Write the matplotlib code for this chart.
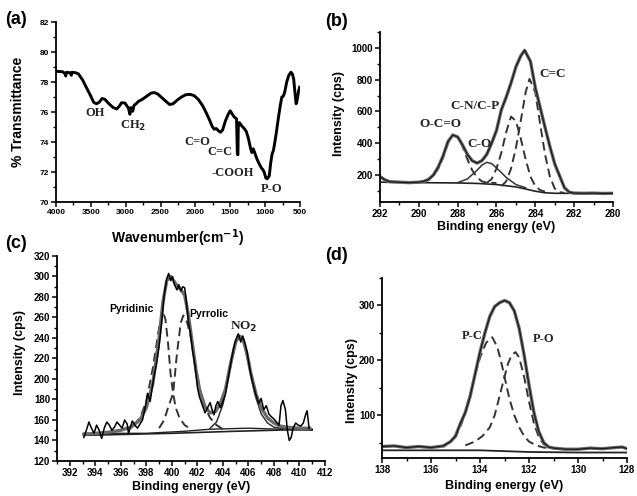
#!/usr/bin/env python3
"""
Four-panel figure: FTIR spectrum and C1s / N1s / P2p XPS fits.
"""

import matplotlib
matplotlib.use("Agg")
import matplotlib.pyplot as plt
from matplotlib.ticker import MultipleLocator

# ---- (a) FTIR ----
ftirWn = [4000, 3950, 3900, 3870, 3860, 3850, 3800, 3780, 3770, 3720, 3680, 3620, 3560, 3500,
          3460, 3420, 3380, 3340, 3300, 3240, 3180, 3130, 3090, 3060, 3010, 2960, 2940, 2925,
          2900, 2880, 2850, 2820, 2760, 2700, 2640, 2590, 2540, 2480, 2420, 2370, 2320, 2260,
          2200, 2140, 2080, 2020, 1960, 1900, 1850, 1800, 1760, 1730, 1700, 1670, 1640, 1610,
          1570, 1530, 1500, 1470, 1440, 1410, 1398, 1390, 1385, 1370, 1340, 1300, 1270, 1240,
          1210, 1190, 1170, 1150, 1120, 1080, 1050, 1030, 1010, 990, 970, 940, 920, 900, 880,
          860, 840, 810, 780, 760, 740, 720, 690, 660, 630, 610, 590, 570, 555, 540, 520, 505]
ftirT = [78.72, 78.70, 78.68, 78.55, 78.40, 78.65, 78.62, 78.45, 78.65, 78.62, 78.55, 78.15, 77.60, 77.05,
         76.65, 76.55, 76.65, 76.90, 76.85, 76.55, 76.30, 76.20, 76.40, 76.62, 76.60, 76.25, 75.85, 76.30,
         76.05, 76.45, 76.55, 76.70, 76.85, 77.05, 77.25, 77.30, 77.20, 76.95, 76.70, 76.50, 76.55, 76.80,
         77.00, 77.15, 77.18, 77.10, 76.85, 76.45, 76.00, 75.50, 75.05, 74.85, 74.90, 74.75, 74.65, 74.80,
         75.40, 75.85, 76.08, 75.85, 75.65, 75.55, 73.20, 73.15, 75.00, 75.30, 75.10, 74.90, 74.70, 74.25,
         73.60, 73.30, 73.55, 73.30, 72.90, 72.50, 72.25, 72.15, 71.95, 71.60, 71.55, 71.75, 72.60, 73.20, 73.45,
         74.00, 74.60, 75.60, 76.50, 77.00, 77.05, 77.30, 78.00, 78.45, 78.65, 78.55, 78.20, 77.20, 76.55, 76.80, 77.40, 77.65]
ftirLabels = ["OH", "CH$_2$", "C=O", "C=C", "-COOH", "P-O"]
ftirLabelX = [3440, 2895, 1977, 1647, 1461, 901]
ftirLabelY = [75.93, 75.07, 74.0, 73.33, 71.93, 70.87]

# ---- (b) C1s ----
c1sEnvX = [292.0, 291.75, 291.5, 291.0, 290.5, 290.0, 289.75, 289.5, 289.25, 289.0, 288.75, 288.5,
           288.25, 288.0, 287.75, 287.5, 287.25, 287.0, 286.75, 286.5, 286.25, 286.0, 285.75, 285.5,
           285.25, 285.0, 284.75, 284.55, 284.25, 284.0, 283.75, 283.5, 283.25, 283.0, 282.75, 282.5,
           282.25, 282.0, 281.5, 281.0, 280.5, 280.0]
c1sEnvY = [190, 170, 158, 155, 152, 155, 160, 172, 200, 250, 320, 410,
           452, 440, 390, 330, 290, 275, 290, 330, 400, 480, 610, 690,
           780, 880, 950, 985, 915, 750, 625, 500, 380, 270, 195, 120,
           92, 86, 85, 86, 84, 85]
c1sBaseX = [292, 290, 288, 287, 286, 285, 284.5, 284, 283.5, 283, 280]
c1sBaseY = [155, 152, 150, 147, 140, 125, 112, 98, 88, 85, 84]
ocoX = [289.75, 289.5, 289.25, 289.0, 288.75, 288.5, 288.25, 288.0, 287.75, 287.5, 287.25, 287.0, 286.75, 286.5, 286.0]
ocoY = [160, 170, 195, 240, 310, 400, 450, 440, 380, 300, 230, 185, 160, 152, 150]
coX = [288.0, 287.5, 287.0, 286.75, 286.5, 286.25, 286.0, 285.5, 285.0, 284.5]
coY = [152, 175, 230, 262, 280, 272, 245, 185, 140, 120]
cnX = [286.5, 286.25, 286.0, 285.75, 285.5, 285.25, 285.0, 284.75, 284.5, 284.25, 284.0, 283.75, 283.5]
cnY = [150, 175, 240, 340, 470, 568, 540, 430, 300, 190, 130, 105, 95]
ccX = [285.75, 285.5, 285.25, 285.0, 284.75, 284.5, 284.3, 284.0, 283.75, 283.5, 283.25, 283.0, 282.75, 282.5]
ccY = [130, 160, 240, 370, 540, 720, 805, 720, 520, 330, 190, 115, 92, 88]
c1sLabels = ["O-C=O", "C-O", "C-N/C-P", "C=C"]
c1sLabelX = [288.9, 286.9, 287.1, 283.1]
c1sLabelY = [521, 395, 635, 836]

# ---- (c) N1s ----
n1sDataX = [393.1, 393.3, 393.5, 393.7, 393.9, 394.1, 394.3, 394.5, 394.7, 394.9, 395.1, 395.3, 395.5,
            395.7, 395.9, 396.1, 396.3, 396.5, 396.6, 396.8, 396.9, 397.1, 397.3, 397.5, 397.7, 397.9,
            398.1, 398.3, 398.5, 398.6, 398.8, 399.0, 399.2, 399.4, 399.6, 399.75, 399.9, 400.05, 400.2,
            400.4, 400.55, 400.7, 400.85, 401.0, 401.1, 401.3, 401.45, 401.6, 401.8, 402.0, 402.15, 402.4,
            402.6, 402.8, 403.0, 403.15, 403.3, 403.45, 403.6, 403.8, 404.0, 404.2, 404.4, 404.6, 404.8,
            405.0, 405.2, 405.4, 405.55, 405.7, 405.9, 406.1, 406.3, 406.55, 406.8, 407.0, 407.2, 407.4,
            407.6, 407.8, 408.0, 408.2, 408.4, 408.55, 408.7, 408.9, 409.05, 409.2, 409.35, 409.5, 409.7,
            409.9, 410.1, 410.3, 410.5, 410.6, 410.75]
n1sDataY = [143, 150, 158, 152, 147, 155, 150, 142, 152, 158, 155, 150, 153,
            158, 155, 152, 160, 156, 147, 155, 159, 155, 152, 156, 160, 172,
            186, 178, 195, 202, 215, 232, 255, 282, 298, 303, 296, 300, 292,
            287, 292, 286, 290, 289, 280, 255, 245, 230, 214, 192, 183, 174,
            167, 172, 177, 170, 165, 174, 178, 172, 178, 185, 200, 214, 228,
            238, 244, 236, 242, 236, 226, 210, 198, 186, 176, 181, 170, 174,
            166, 163, 161, 158, 155, 174, 179, 170, 150, 140, 143, 152, 157,
            155, 154, 157, 166, 169, 152]
n1sEnvX = [393.1, 395, 396, 396.8, 397.5, 398, 398.5, 399, 399.3, 399.6, 399.9, 400.3, 400.7, 401.0,
           401.3, 401.6, 401.9, 402.2, 402.6, 403.0, 403.4, 403.8, 404.2, 404.6, 405.0, 405.3, 405.6,
           405.9, 406.2, 406.6, 407.0, 407.5, 408, 408.5, 409, 410, 410.8]
n1sEnvY = [146, 148, 150, 153, 160, 172, 195, 240, 275, 296, 300, 293, 287, 282,
           262, 235, 208, 188, 173, 167, 168, 176, 190, 215, 236, 242, 238,
           224, 205, 185, 172, 162, 157, 154, 153, 152, 152]
n1sBase1X = [393.1, 400, 405, 411]
n1sBase1Y = [145, 147, 149, 151]
n1sBase2X = [393.1, 398, 401, 403, 406, 411]
n1sBase2Y = [147, 147, 149, 151, 152, 150]
pyridX = [396, 397, 397.5, 398, 398.5, 399, 399.3, 399.5, 399.7, 399.9, 400.1, 400.3, 400.6, 401, 401.5]
pyridY = [150, 155, 162, 178, 210, 250, 266, 258, 235, 205, 186, 172, 162, 155, 151]
pyrrX = [399.0, 399.4, 399.7, 400.1, 400.4, 400.7, 400.9, 401.2, 401.5, 401.8, 402.2, 402.6, 403, 403.5, 404]
pyrrY = [152, 160, 172, 186, 225, 255, 262, 255, 240, 215, 190, 172, 162, 155, 151]
no2X = [403, 403.5, 404, 404.5, 405, 405.3, 405.6, 406, 406.5, 407, 407.5, 408, 409]
no2Y = [152, 158, 175, 205, 236, 242, 238, 215, 185, 166, 157, 153, 151]

# ---- (d) P2p ----
p2pEnvX = [138, 137.5, 137, 136.5, 136, 135.5, 135.2, 135.0, 134.8, 134.6, 134.4, 134.2, 134.0, 133.8,
           133.6, 133.4, 133.2, 133.0, 132.8, 132.6, 132.4, 132.2, 132.0, 131.8, 131.6, 131.4, 131.2,
           131, 130.5, 130, 129.5, 129, 128.5, 128.2, 128]
p2pEnvY = [43, 44, 41, 43, 41, 44, 52, 62, 85, 105, 135, 175, 215, 250,
           280, 298, 305, 309, 305, 290, 258, 210, 155, 105, 70, 50, 42,
           40, 38, 38, 40, 39, 41, 42, 39]
p2pBaseX = [138, 134, 132, 130, 128]
p2pBaseY = [36, 36, 33, 32, 32]
pcX = [135.5, 135, 134.75, 134.5, 134.25, 134, 133.75, 133.5, 133.3, 133.15, 133.0, 132.8, 132.6,
       132.4, 132.2, 132, 131.7, 131.4, 131]
pcY = [42, 60, 85, 120, 165, 205, 232, 242, 225, 200, 170, 130, 100, 78, 62, 52, 45, 41, 40]
poX = [134.6, 134.2, 133.9, 133.6, 133.4, 133.2, 133.0, 132.85, 132.7, 132.55, 132.4, 132.2, 132.0,
       131.8, 131.6, 131.4, 131.1, 130.8]
poY = [45, 52, 62, 78, 100, 135, 170, 195, 210, 215, 205, 170, 125, 85, 60, 47, 41, 39]

SANS = "Liberation Sans"
SERIF = "Liberation Serif"
ENV_GRAY = "#6a6a6a"
DASH = (4.5, 2.5)


def styleAxes(ax, labelSize=6.5):
    for side in ("top", "right"):
        ax.spines[side].set_visible(False)
    for side in ("left", "bottom"):
        ax.spines[side].set_linewidth(1.3)
    ax.tick_params(which="major", direction="out", length=3.5, width=1.1,
                   labelsize=labelSize, pad=1.5)
    ax.tick_params(which="minor", direction="out", length=2, width=1.0)
    for lbl in ax.get_xticklabels() + ax.get_yticklabels():
        lbl.set_fontweight("bold")
        lbl.set_family(SANS)


def serifLabel(ax, x, y, s, size=9):
    ax.text(x, y, s, family=SERIF, fontweight="bold", fontsize=size,
            ha="center", va="center", color="#222222")


def plotFigure(output="out.png"):
    fig = plt.figure(figsize=(6.37, 4.96), dpi=100)
    plt.rcParams["font.family"] = SANS
    plt.rcParams["font.weight"] = "bold"

    # (a) FTIR
    axA = fig.add_axes([0.0879, 0.5927, 0.383, 0.3629])
    axA.plot(ftirWn, ftirT, color="black", lw=2.1, solid_joinstyle="round")
    axA.set_xlim(4000, 500)
    axA.set_ylim(70, 82)
    axA.xaxis.set_major_locator(MultipleLocator(500))
    axA.xaxis.set_minor_locator(MultipleLocator(250))
    axA.yaxis.set_major_locator(MultipleLocator(2))
    axA.yaxis.set_minor_locator(MultipleLocator(1))
    styleAxes(axA, 6)
    for s, x, y in zip(ftirLabels, ftirLabelX, ftirLabelY):
        serifLabel(axA, x, y, s, 9)
    axA.set_xlabel("Wavenumber(cm$^{-1}$)", fontsize=10, fontweight="bold")
    axA.set_ylabel("% Transmittance", fontsize=10, fontweight="bold")
    axA.xaxis.set_label_coords(0.5, -0.14)
    axA.yaxis.set_label_coords(-0.125, 0.5)

    # (b) C1s
    axB = fig.add_axes([0.5965, 0.5927, 0.3658, 0.3427])
    axB.plot(c1sBaseX, c1sBaseY, color="#222222", lw=1.2)
    axB.plot(ocoX, ocoY, color="#333333", lw=1.4, dashes=DASH)
    axB.plot(coX, coY, color="#333333", lw=1.1)
    axB.plot(cnX, cnY, color="#333333", lw=1.4, dashes=DASH)
    axB.plot(ccX, ccY, color="#333333", lw=1.4, dashes=DASH)
    axB.plot(c1sEnvX, c1sEnvY, color=ENV_GRAY, lw=2.4)
    axB.plot(c1sEnvX, c1sEnvY, color="#1a1a1a", lw=0.9)
    axB.set_xlim(292, 280)
    axB.set_ylim(30, 1100)
    axB.xaxis.set_major_locator(MultipleLocator(2))
    axB.xaxis.set_minor_locator(MultipleLocator(1))
    axB.set_yticks([200, 400, 600, 800, 1000])
    axB.yaxis.set_minor_locator(MultipleLocator(100))
    styleAxes(axB, 7)
    for s, x, y in zip(c1sLabels, c1sLabelX, c1sLabelY):
        serifLabel(axB, x, y, s, 9.5)
    axB.set_xlabel("Binding energy (eV)", fontsize=9, fontweight="bold")
    axB.set_ylabel("Intensity (cps)", fontsize=9, fontweight="bold")
    axB.xaxis.set_label_coords(0.5, -0.11)
    axB.yaxis.set_label_coords(-0.15, 0.52)

    # (c) N1s
    axC = fig.add_axes([0.0895, 0.0706, 0.4207, 0.4133])
    axC.plot(n1sBase1X, n1sBase1Y, color="#222222", lw=1.2)
    axC.plot(n1sBase2X, n1sBase2Y, color="#222222", lw=1.0)
    axC.plot(pyridX, pyridY, color="#333333", lw=1.4, dashes=DASH)
    axC.plot(pyrrX, pyrrY, color="#333333", lw=1.4, dashes=DASH)
    axC.plot(no2X, no2Y, color="#333333", lw=1.1)
    axC.plot(n1sEnvX, n1sEnvY, color=ENV_GRAY, lw=2.4)
    axC.plot(n1sDataX, n1sDataY, color="black", lw=1.1)
    axC.set_xlim(391, 412)
    axC.set_ylim(120, 320)
    axC.xaxis.set_major_locator(MultipleLocator(2))
    axC.xaxis.set_minor_locator(MultipleLocator(1))
    axC.yaxis.set_major_locator(MultipleLocator(20))
    axC.yaxis.set_minor_locator(MultipleLocator(10))
    styleAxes(axC, 7)
    axC.text(396.8, 268, "Pyridinic", fontsize=7.5, fontweight="bold", ha="center", va="center")
    axC.text(402.9, 263.5, "Pyrrolic", fontsize=7.5, fontweight="bold", ha="center", va="center")
    serifLabel(axC, 405.6, 251, "NO$_2$", 9.5)
    axC.set_xlabel("Binding energy (eV)", fontsize=9, fontweight="bold")
    axC.set_ylabel("Intensity (cps)", fontsize=9, fontweight="bold")
    axC.xaxis.set_label_coords(0.5, -0.1)
    axC.yaxis.set_label_coords(-0.115, 0.53)

    # (d) P2p
    axD = fig.add_axes([0.5997, 0.0766, 0.3846, 0.3629])
    axD.plot(p2pBaseX, p2pBaseY, color="#222222", lw=1.3)
    axD.plot(pcX, pcY, color="#333333", lw=1.4, dashes=DASH)
    axD.plot(poX, poY, color="#333333", lw=1.4, dashes=DASH)
    axD.plot(p2pEnvX, p2pEnvY, color=ENV_GRAY, lw=2.4)
    axD.plot(p2pEnvX, p2pEnvY, color="#1a1a1a", lw=0.9)
    axD.set_xlim(138, 128)
    axD.set_ylim(22, 350)
    axD.xaxis.set_major_locator(MultipleLocator(2))
    axD.xaxis.set_minor_locator(MultipleLocator(1))
    axD.set_yticks([100, 200, 300])
    axD.yaxis.set_minor_locator(MultipleLocator(50))
    styleAxes(axD, 7)
    serifLabel(axD, 134.3, 245, "P-C", 9)
    serifLabel(axD, 131.4, 238, "P-O", 9)
    axD.set_xlabel("Binding energy (eV)", fontsize=9, fontweight="bold")
    axD.set_ylabel("Intensity (cps)", fontsize=9, fontweight="bold")
    axD.xaxis.set_label_coords(0.5, -0.12)
    axD.yaxis.set_label_coords(-0.1, 0.43)

    # panel letters
    for s, px, py in [("(a)", 5, 20), ("(b)", 325, 22), ("(c)", 5, 243), ("(d)", 325, 255)]:
        fig.text(px / 637, 1 - py / 496, s, fontsize=13, fontweight="bold",
                 ha="left", va="center")

    fig.savefig(output, dpi=100)


if __name__ == "__main__":
    plotFigure()
